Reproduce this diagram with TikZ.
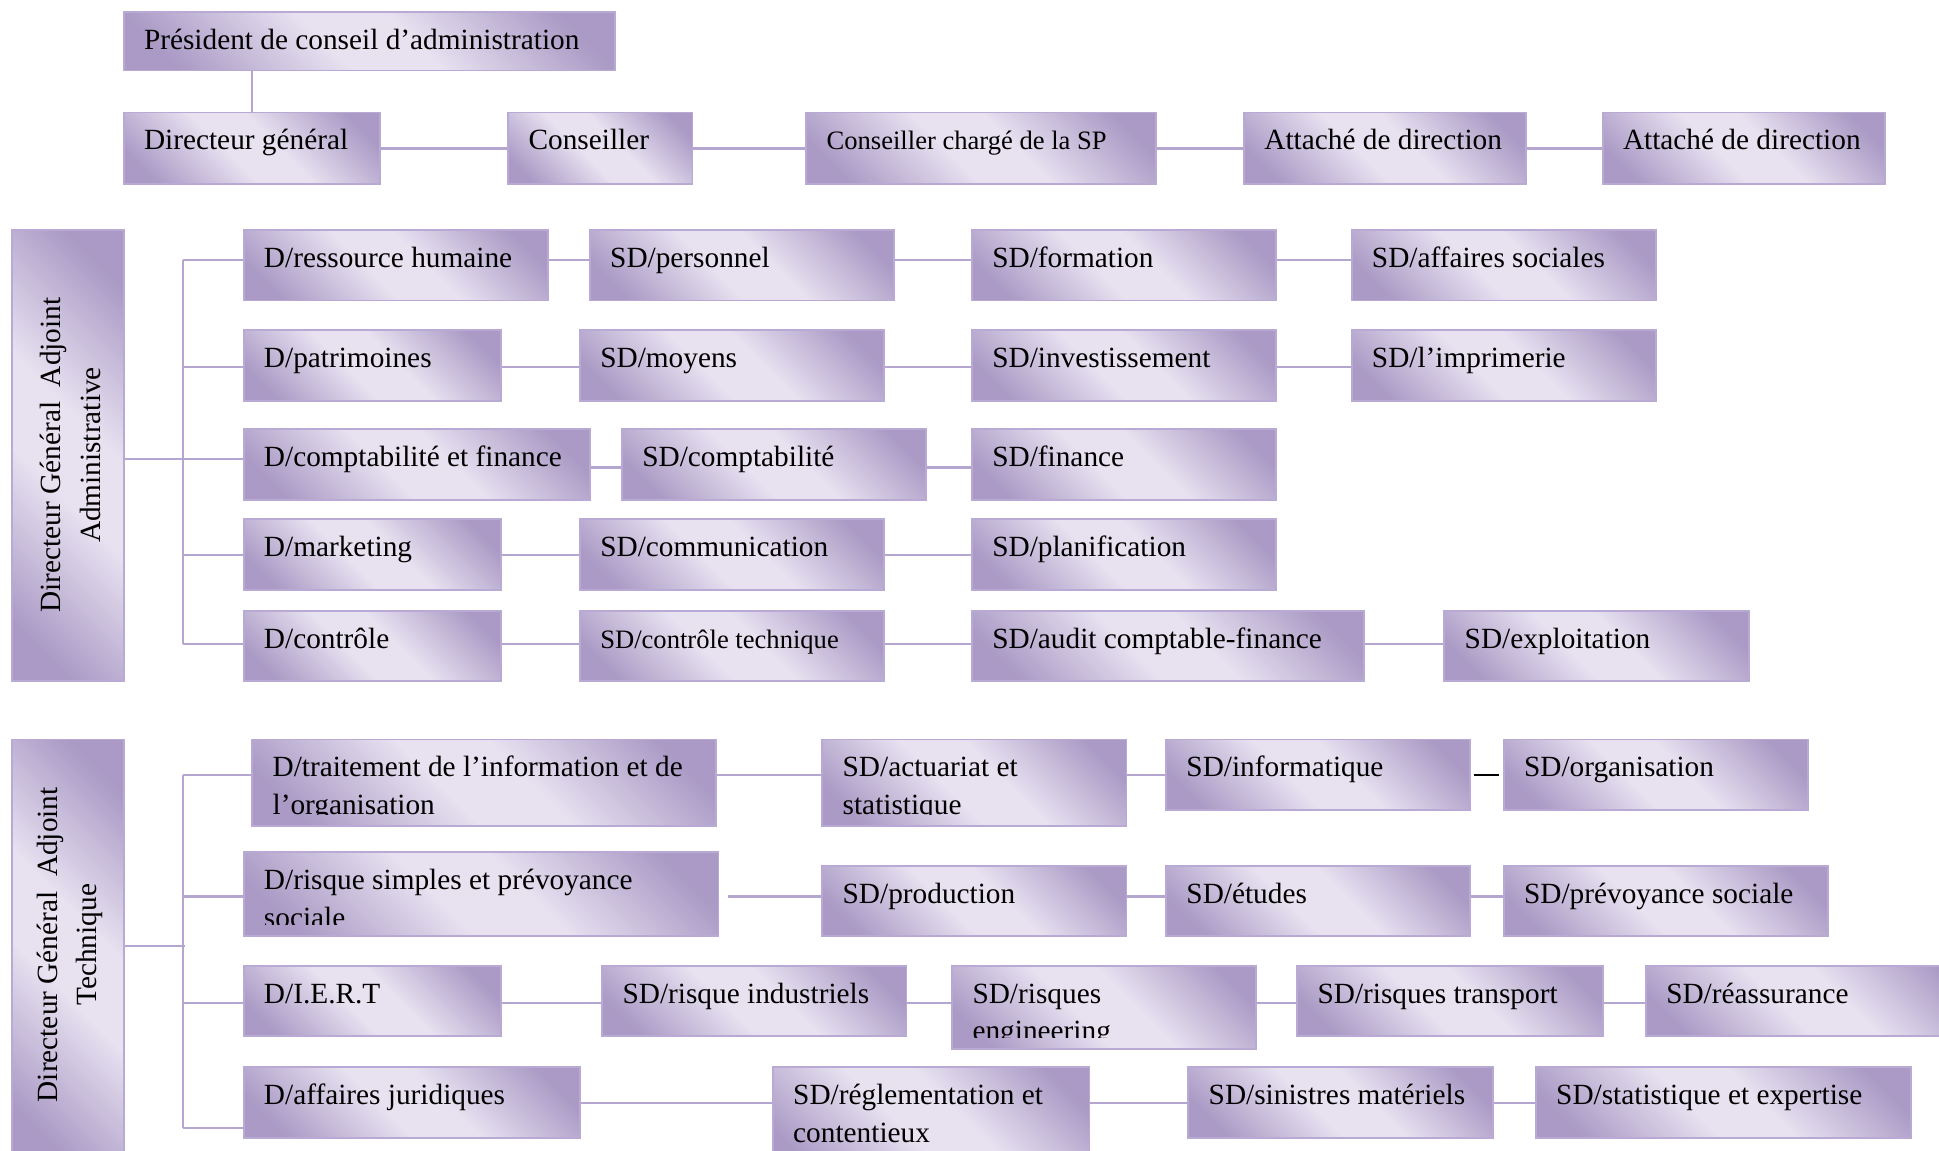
\documentclass[tikz,border=0pt]{standalone}
\usepackage{fontspec}
\setmainfont{Liberation Serif}
\usetikzlibrary{calc}
\definecolor{dk}{RGB}{170,154,197}
\definecolor{lt}{RGB}{231,225,240}
\definecolor{bord}{RGB}{184,170,212}
\definecolor{lnc}{RGB}{180,166,208}
\pgfdeclareverticalshading{boxshade}{100bp}{color(0bp)=(dk); color(22bp)=(dk); color(44bp)=(lt); color(56bp)=(lt); color(78bp)=(dk); color(100bp)=(dk)}
\tikzset{
  boxsty/.style={rectangle, draw=bord, line width=1.5pt, shading=boxshade, shading angle=-45, inner sep=0pt},
  conn/.style={draw=lnc, line width=1.8pt},
  txt/.style={anchor=base west, inner sep=0pt}
}
\newcommand{\bx}[7][23.7]{%
  \node[boxsty, minimum width={(#5-#3)*1pt}, minimum height={(#6-#4)*1pt}] (#2) at ({(#3+#5)/2},{(#4+#6)/2}) {};
  \begin{scope}
    \clip ([yshift=10pt]#2.south west) rectangle (#2.north east);
    \node[txt, font=\fontsize{#1}{30}\selectfont] at ([xshift=17pt,yshift=-31pt]#2.north west) {#7};
  \end{scope}}
\newcommand{\tl}[2]{\vtop{\baselineskip=30.5pt\hbox{#1}\hbox{#2}}}
\begin{document}
\begin{tikzpicture}[x=1pt,y=-1pt]
\clip (0,0) rectangle (1568,930);
\fill[white] (0,0) rectangle (1568,930);
% ---------- top rows
\bx{pres}{100}{10}{497}{57}{Président de conseil d’administration}
\bx{dg}{100}{91}{307}{149}{Directeur général}
\bx{cons}{411}{91}{560}{149}{Conseiller}
\bx[21.5]{csp}{652}{91}{935}{149}{Conseiller chargé de la SP}
\bx{att1}{1006}{91}{1234}{149}{Attaché de direction}
\bx{att2}{1296}{91}{1524}{149}{Attaché de direction}
\coordinate (r0) at (0,120);
\draw[conn] (dg.north |- pres.south) -- (dg.north);
\draw[conn] (dg.east |- r0) -- (cons.west |- r0);
\draw[conn] (cons.east |- r0) -- (csp.west |- r0);
\draw[conn] (csp.east |- r0) -- (att1.west |- r0);
\draw[conn] (att1.east |- r0) -- (att2.west |- r0);
% ---------- section A
\node[boxsty, minimum width=90pt, minimum height=365pt] (dgaA) at (55,368.5) {};
\node[rotate=90, align=center, inner sep=0pt, font=\fontsize{23.7}{32}\selectfont] (dgaAt) at (57,368) {Directeur Général\ \ Adjoint\\Administrative};
\bx{a1a}{197}{186}{443}{243}{D/ressource humaine}
\bx{a1b}{477}{186}{723}{243}{SD/personnel}
\bx{a1c}{786}{186}{1032}{243}{SD/formation}
\bx{a1d}{1093}{186}{1339}{243}{SD/affaires sociales}
\bx{a2a}{197}{267}{405}{324}{D/patrimoines}
\bx{a2b}{469}{267}{715}{324}{SD/moyens}
\bx{a2c}{786}{267}{1032}{324}{SD/investissement}
\bx{a2d}{1093}{267}{1339}{324}{SD/l’imprimerie}
\bx{a3a}{197}{347}{477}{404}{D/comptabilité et finance}
\bx{a3b}{503}{347}{749}{404}{SD/comptabilité}
\bx{a3c}{786}{347}{1032}{404}{SD/finance}
\bx{a4a}{197}{420}{405}{477}{D/marketing}
\bx{a4b}{469}{420}{715}{477}{SD/communication}
\bx{a4c}{786}{420}{1032}{477}{SD/planification}
\bx{a5a}{197}{494}{405}{551}{D/contrôle}
\bx[21.5]{a5b}{469}{494}{715}{551}{SD/contrôle technique}
\bx{a5c}{786}{494}{1103}{551}{SD/audit comptable-finance}
\bx{a5d}{1168}{494}{1414}{551}{SD/exploitation}
\coordinate (tA) at (148,371);
\coordinate (tA1) at (148,210);
\coordinate (tA2) at (148,297);
\coordinate (tA4) at (148,449);
\coordinate (tA5) at (148,521);
\coordinate (rA3) at (0,378);
\draw[conn] (dgaA.east |- tA) -- (tA);
\draw[conn] (tA1) -- (tA5);
\draw[conn] (tA1) -- (a1a.west |- tA1);
\draw[conn] (tA2) -- (a2a.west |- tA2);
\draw[conn] (tA) -- (a3a.west |- tA);
\draw[conn] (tA4) -- (a4a.west |- tA4);
\draw[conn] (tA5) -- (a5a.west |- tA5);
\draw[conn] (a1a.east |- tA1) -- (a1b.west |- tA1);
\draw[conn] (a1b.east |- tA1) -- (a1c.west |- tA1);
\draw[conn] (a1c.east |- tA1) -- (a1d.west |- tA1);
\draw[conn] (a2a.east |- tA2) -- (a2b.west |- tA2);
\draw[conn] (a2b.east |- tA2) -- (a2c.west |- tA2);
\draw[conn] (a2c.east |- tA2) -- (a2d.west |- tA2);
\draw[conn] (a3a.east |- rA3) -- (a3b.west |- rA3);
\draw[conn] (a3b.east |- rA3) -- (a3c.west |- rA3);
\draw[conn] (a4a.east |- tA4) -- (a4b.west |- tA4);
\draw[conn] (a4b.east |- tA4) -- (a4c.west |- tA4);
\draw[conn] (a5a.east |- tA5) -- (a5b.west |- tA5);
\draw[conn] (a5b.east |- tA5) -- (a5c.west |- tA5);
\draw[conn] (a5c.east |- tA5) -- (a5d.west |- tA5);
% ---------- section B
\node[boxsty, minimum width=90pt, minimum height=342pt] (dgaB) at (55,769) {};
\node[rotate=90, align=center, inner sep=0pt, font=\fontsize{23.7}{31}\selectfont] (dgaBt) at (56.5,764) {Directeur Général\ \ Adjoint\\Technique};
\bx{b1a}{204}{598}{579}{668}{\tl{D/traitement de l’information et de}{l’organisation}}
\bx{b1b}{665}{598}{911}{668}{\tl{SD/actuariat et}{statistique}}
\bx{b1c}{943}{598}{1189}{655}{SD/informatique}
\bx{b1d}{1216}{598}{1462}{655}{SD/organisation}
\bx{b2a}{197}{689}{581}{757}{\tl{D/risque simples et prévoyance}{sociale}}
\bx{b2b}{665}{700}{911}{757}{SD/production}
\bx{b2c}{943}{700}{1189}{757}{SD/études}
\bx{b2d}{1216}{700}{1478}{757}{SD/prévoyance sociale}
\bx{b3a}{197}{781}{405}{838}{D/I.E.R.T}
\bx{b3b}{487}{781}{733}{838}{SD/risque industriels}
\bx{b3c}{770}{781}{1016}{848}{\tl{SD/risques}{engineering}}
\bx{b3d}{1049}{781}{1296}{838}{SD/risques transport}
\bx{b3e}{1331}{781}{1600}{838}{SD/réassurance}
\bx{b4a}{197}{863}{469}{920}{D/affaires juridiques}
\bx{b4b}{625}{863}{881}{950}{\tl{SD/réglementation et}{contentieux}}
\bx{b4c}{961}{863}{1207}{920}{SD/sinistres matériels}
\bx{b4d}{1242}{863}{1545}{920}{SD/statistique et expertise}
\coordinate (tB) at (150,765);
\coordinate (tB1) at (148,627);
\coordinate (tB2) at (148,725);
\coordinate (tB3) at (148,811);
\coordinate (tB4) at (148,912);
\coordinate (rB4) at (0,892);
\draw[conn] (dgaB.east |- tB) -- (tB);
\draw[conn] (tB1) -- (tB4);
\draw[conn] (tB1) -- (b1a.west |- tB1);
\draw[conn] (tB2) -- (b2a.west |- tB2);
\draw[conn] (tB3) -- (b3a.west |- tB3);
\draw[conn] (tB4) -- (b4a.west |- tB4);
\draw[conn] (b1a.east |- tB1) -- (b1b.west |- tB1);
\draw[conn] (b1b.east |- tB1) -- (b1c.west |- tB1);
\draw[black, line width=1.8pt] ([xshift=2pt]b1c.east |- tB1) -- ([xshift=-3pt]b1d.west |- tB1);
\draw[conn] ([xshift=7pt]b2a.east |- tB2) -- (b2b.west |- tB2);
\draw[conn] (b2b.east |- tB2) -- (b2c.west |- tB2);
\draw[conn] (b2c.east |- tB2) -- (b2d.west |- tB2);
\draw[conn] (b3a.east |- tB3) -- (b3b.west |- tB3);
\draw[conn] (b3b.east |- tB3) -- (b3c.west |- tB3);
\draw[conn] (b3c.east |- tB3) -- (b3d.west |- tB3);
\draw[conn] (b3d.east |- tB3) -- (b3e.west |- tB3);
\draw[conn] (b4a.east |- rB4) -- (b4b.west |- rB4);
\draw[conn] (b4b.east |- rB4) -- (b4c.west |- rB4);
\draw[conn] (b4c.east |- rB4) -- (b4d.west |- rB4);
\end{tikzpicture}
\end{document}
